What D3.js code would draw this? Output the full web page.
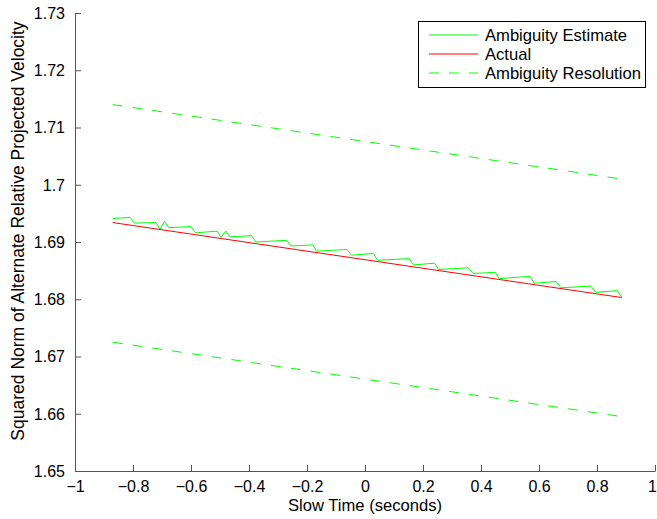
<!DOCTYPE html>
<html>
<head>
<meta charset="utf-8">
<script src="https://cdn.jsdelivr.net/npm/d3@7"></script>
<style>
  body { margin: 0; background: #fff; }
  svg { font-family: "Liberation Sans", Arial, sans-serif; }
</style>
</head>
<body>
<svg width="657" height="519"></svg>
<script>
// sawtooth estimate
const estimateX = [-0.870, -0.810, -0.796, -0.721, -0.707, -0.692, -0.676, -0.601, -0.584, -0.509,
    -0.497, -0.480, -0.466, -0.391, -0.376, -0.270, -0.255, -0.180, -0.167, -0.063,
    -0.046, 0.029, 0.044, 0.152, 0.167, 0.240, 0.254, 0.356, 0.373, 0.449,
    0.463, 0.569, 0.584, 0.659, 0.676, 0.779, 0.796, 0.870, 0.885];
const estimateY = [1.6941, 1.6943, 1.6933, 1.6934, 1.6922, 1.6936, 1.6925, 1.6927, 1.6916, 1.6919,
    1.6908, 1.6919, 1.6909, 1.6911, 1.6900, 1.6903, 1.6893, 1.6895, 1.6884, 1.6887,
    1.6877, 1.6880, 1.6868, 1.6871, 1.6860, 1.6863, 1.6852, 1.6855, 1.6845, 1.6847,
    1.6836, 1.6840, 1.6828, 1.6831, 1.6820, 1.6823, 1.6812, 1.6815, 1.6804];
const actualX = [-0.870, 0.885];
const actualY = [1.6934, 1.6803];
const upperY = [1.7140, 1.7010];
const lowerY = [1.6725, 1.6595];

const xTicks = [-1, -0.8, -0.6, -0.4, -0.2, 0, 0.2, 0.4, 0.6, 0.8, 1];
const yTicks = [1.65, 1.66, 1.67, 1.68, 1.69, 1.7, 1.71, 1.72, 1.73];

const legendNames = ["Ambiguity Estimate", "Actual", "Ambiguity Resolution"];
const legendColors = ["#00ff00", "#ff0000", "#00ff00"];
const legendDash = [null, null, "10,10"];

const svg = d3.select("svg");
const x = d3.scaleLinear().domain([-1, 1]).range([75, 655]);
const y = d3.scaleLinear().domain([1.65, 1.73]).range([471, 13]);

const fmt = v => {
    let s = d3.format("~g")(Math.abs(v));
    return (v < 0 ? "\u2212" : "") + s;
};

const line = d3.line().x(d => x(d[0])).y(d => y(d[1]));

// axes, ticks pointing inward like matlab
const xAxisG = svg.append("g")
    .attr("transform", "translate(0,471)")
    .call(d3.axisBottom(x).tickValues(xTicks).tickFormat(fmt).tickSizeInner(-6).tickSizeOuter(0));
const yAxisG = svg.append("g")
    .attr("transform", "translate(75,0)")
    .call(d3.axisLeft(y).tickValues(yTicks).tickFormat(fmt).tickSizeInner(-6).tickSizeOuter(0));

[xAxisG, yAxisG].forEach(g => {
    g.selectAll("path, line").attr("stroke", "#555");
    g.selectAll("text").attr("fill", "#000").attr("font-size", 16);
    g.attr("font-family", null);
});
xAxisG.selectAll("text").attr("y", 10).attr("dy", "0.71em");
// keep the last label inside the window
xAxisG.selectAll("text").filter(d => d === 1).attr("x", -3);
yAxisG.selectAll("text").attr("x", -10).attr("dy", "0.34em");

// dashed resolution bounds
svg.append("path")
    .datum(actualX.map((v, i) => [v, upperY[i]]))
    .attr("d", line)
    .attr("fill", "none").attr("stroke", "#00ff00").attr("stroke-dasharray", "10,10");
svg.append("path")
    .datum(actualX.map((v, i) => [v, lowerY[i]]))
    .attr("d", line)
    .attr("fill", "none").attr("stroke", "#00ff00").attr("stroke-dasharray", "10,10");

svg.append("path")
    .datum(estimateX.map((v, i) => [v, estimateY[i]]))
    .attr("d", line)
    .attr("fill", "none").attr("stroke", "#00ff00");

svg.append("path")
    .datum(actualX.map((v, i) => [v, actualY[i]]))
    .attr("d", line)
    .attr("fill", "none").attr("stroke", "#ff0000");

// axis titles
svg.append("text")
    .attr("x", 365).attr("y", 511)
    .attr("text-anchor", "middle").attr("font-size", 16.6)
    .text("Slow Time (seconds)");
svg.append("text")
    .attr("transform", "translate(24,231) rotate(-90)")
    .attr("text-anchor", "middle").attr("font-size", 17.5)
    .text("Squared Norm of Alternate Relative Projected Velocity");

// legend
const lg = svg.append("g");
lg.append("rect")
    .attr("x", 418.5).attr("y", 21.5).attr("width", 227).attr("height", 66)
    .attr("fill", "#fff").attr("stroke", "#000");
legendNames.forEach((name, i) => {
    const ly = 35 + i * 19;
    lg.append("line")
        .attr("x1", 429).attr("x2", 478).attr("y1", ly).attr("y2", ly)
        .attr("stroke", legendColors[i])
        .attr("stroke-dasharray", legendDash[i]);
    lg.append("text")
        .attr("x", 485).attr("y", ly).attr("dy", "0.35em")
        .attr("font-size", 16.6)
        .text(name);
});
</script>
</body>
</html>
